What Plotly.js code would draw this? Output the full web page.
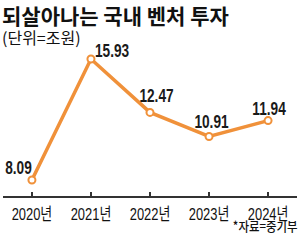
<!DOCTYPE html>
<html><head><meta charset="utf-8">
<script src="https://cdn.plot.ly/plotly-3.0.1.min.js"></script>
<style>html,body{margin:0;padding:0;background:#fff}#c{width:300px;height:241px}</style>
</head><body><div id="c"></div>
<script>
const years = ['2020년','2021년','2022년','2023년','2024년'];
const values = [8.09, 15.93, 12.47, 10.91, 11.94];
const labels = ['8.09','15.93','12.47','10.91','11.94'];
const titleText = '되살아나는 국내 벤처 투자';
const unitText = '(단위=조원)';
const sourceText = '*자료=중기부';

const NUM = '"Liberation Sans", Arial, "Noto Sans CJK KR", sans-serif';
const KR = '"Noto Sans CJK KR", sans-serif';
const orange = '#F0913A';

const shifts = [
  {xanchor:'center', xshift:-13, yshift:0},
  {xanchor:'left', xshift:2, yshift:-4},
  {xanchor:'center', xshift:6, yshift:4},
  {xanchor:'center', xshift:2, yshift:2},
  {xanchor:'center', xshift:1, yshift:0}
];

const annotations = years.map((y,i)=>({
  x:y, y:values[i], xref:'x', yref:'y', text:'<b>'+labels[i]+'</b>',
  showarrow:false, yanchor:'bottom', xanchor:shifts[i].xanchor,
  xshift:shifts[i].xshift, yshift:shifts[i].yshift,
  font:{family:NUM, size:18, color:'#1a1a1a'}
}));
annotations.push({xref:'paper', yref:'paper', x:-0.007, y:1.305, xanchor:'left', yanchor:'top', align:'left',
  text:'<span style="font-size:21px"><b>' + titleText + '</b></span><br><span style="font-size:16px">' + unitText + '</span>',
  showarrow:false, borderpad:0, font:{family:KR, size:15.4, color:'#111'}});
annotations.push({xref:'paper', yref:'paper', x:1.008, y:-0.262, xanchor:'right', yanchor:'bottom',
  text:sourceText, showarrow:false, borderpad:0, font:{family:KR, size:13, weight:500, color:'#111'}});

function squeeze(el, s, anchor) {
  const bb = el.getBBox();
  const cx = anchor === 'left' ? bb.x : (anchor === 'right' ? bb.x + bb.width : bb.x + bb.width / 2);
  const prev = el.getAttribute('transform') || '';
  el.setAttribute('transform', prev + ' translate(' + cx + ',0) scale(' + s + ',1) translate(' + (-cx) + ',0)');
}

Plotly.newPlot('c', [{
  x: years, y: values, type:'scatter', mode:'lines+markers',
  line:{color:orange, width:3.5},
  marker:{symbol:'circle', size:7, color:'#fff', line:{color:orange, width:2}},
  cliponaxis:false, hoverinfo:'skip'
}], {
  width:300, height:241,
  margin:{l:3, r:3, t:45, b:45},
  paper_bgcolor:'#fff', plot_bgcolor:'#fff',
  showlegend:false,
  xaxis:{type:'category', range:[-0.49, 4.49], showgrid:false, zeroline:false,
    showline:true, linecolor:'#333', linewidth:1.5,
    ticks:'inside', ticklen:4, tickwidth:1.2, tickcolor:'#333',
    tickfont:{family:NUM, size:17, color:'#111'}, ticklabelstandoff:2},
  yaxis:{range:[7.05, 16.84], visible:false, showgrid:false, zeroline:false},
  annotations: annotations
}, {staticPlot:true, displayModeBar:false}).then(gd => {
  for (let i = 0; i < labels.length; i++) {
    const t = gd.querySelector('.annotation[data-index="' + i + '"] text');
    if (t) squeeze(t, 0.76, shifts[i].xanchor);
  }
  gd.querySelectorAll('.xtick text').forEach(t => squeeze(t, 0.76, 'center'));
  const src = gd.querySelector('.annotation[data-index="' + (labels.length + 1) + '"] text');
  if (src) squeeze(src, 0.88, 'right');
});
</script></body></html>
